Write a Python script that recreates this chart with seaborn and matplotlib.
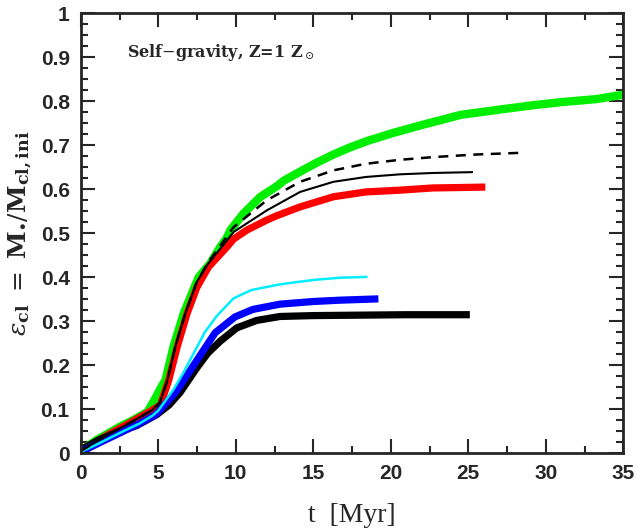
import matplotlib
matplotlib.use("Agg")
import matplotlib.pyplot as plt
import seaborn as sns
import pandas as pd
from matplotlib.ticker import MultipleLocator

# ---- data ----
green_t = [0, 1, 2, 2.5, 3.4, 4.3, 4.75, 5.2, 5.47, 5.98, 6.64, 7.6, 8.36, 9.0, 9.43, 9.65, 10.5, 10.93, 11.6, 12.65, 13.07, 14.15, 15.2, 16.3, 17.36, 18.5, 20.15, 22, 24.5, 27, 29.2, 31, 33.3, 35]
green_y = [0.005, 0.03, 0.05, 0.06, 0.076, 0.094, 0.121, 0.151, 0.167, 0.242, 0.318, 0.40, 0.432, 0.469, 0.49, 0.507, 0.545, 0.56, 0.583, 0.607, 0.619, 0.64, 0.66, 0.679, 0.695, 0.71, 0.728, 0.746, 0.769, 0.781, 0.791, 0.798, 0.805, 0.815]

red_t = [0, 1, 2, 3, 4, 4.6, 5.14, 5.68, 6.22, 6.86, 7.5, 8.25, 9.43, 9.86, 10.7, 12.0, 12.65, 14.15, 16.3, 18.4, 20.6, 22.7, 24.5, 26.1]
red_y = [0.005, 0.027, 0.047, 0.066, 0.086, 0.098, 0.11, 0.167, 0.242, 0.318, 0.378, 0.424, 0.469, 0.487, 0.507, 0.53, 0.54, 0.56, 0.583, 0.594, 0.598, 0.603, 0.604, 0.605]

thin_t = [0, 1, 2, 3, 4, 4.6, 5.1, 5.6, 6.1, 6.75, 7.5, 8.2, 9.0, 9.86, 12.0, 14.15, 16.3, 18.4, 20.6, 22.7, 25.3]
thin_y = [0.005, 0.027, 0.047, 0.066, 0.086, 0.098, 0.115, 0.167, 0.242, 0.318, 0.39, 0.43, 0.465, 0.503, 0.552, 0.594, 0.617, 0.628, 0.634, 0.637, 0.639]

dash_t = [0, 1, 2, 3, 4, 4.6, 5.1, 5.6, 6.1, 6.75, 7.5, 8.2, 9.0, 9.86, 12.0, 14.15, 16.3, 18.4, 20.6, 22.7, 25.5, 28.5]
dash_y = [0.005, 0.027, 0.047, 0.066, 0.086, 0.098, 0.115, 0.167, 0.242, 0.318, 0.39, 0.433, 0.472, 0.514, 0.575, 0.617, 0.643, 0.658, 0.667, 0.673, 0.679, 0.683]

cyan_t = [0, 1.2, 2.5, 3.8, 4.6, 5.0, 5.98, 6.6, 7.25, 8.0, 8.77, 9.85, 11.0, 12.85, 15, 16.7, 18.5]
cyan_y = [0.003, 0.023, 0.046, 0.068, 0.085, 0.097, 0.145, 0.182, 0.225, 0.275, 0.312, 0.352, 0.371, 0.384, 0.394, 0.399, 0.401]

blue_t = [0, 1.2, 2.5, 3.8, 4.6, 4.9, 6.1, 7.0, 7.8, 8.67, 9.95, 11.1, 12.85, 15, 16.7, 19.2]
blue_y = [0.003, 0.024, 0.046, 0.068, 0.083, 0.09, 0.138, 0.185, 0.228, 0.274, 0.31, 0.327, 0.339, 0.345, 0.348, 0.351]

black_t = [0, 1.2, 2.5, 3.6, 4.9, 5.7, 6.4, 7.5, 8.2, 9.0, 10.06, 11.35, 12.85, 15, 18, 21, 25.1]
black_y = [0.008, 0.031, 0.05, 0.063, 0.088, 0.11, 0.138, 0.195, 0.228, 0.255, 0.285, 0.302, 0.311, 0.313, 0.314, 0.315, 0.315]

x_ticks = [0, 5, 10, 15, 20, 25, 30, 35]
y_ticks = [0, 0.1, 0.2, 0.3, 0.4, 0.5, 0.6, 0.7, 0.8, 0.9, 1]
y_ticklabels = ["0", "0.1", "0.2", "0.3", "0.4", "0.5", "0.6", "0.7", "0.8", "0.9", "1"]

sns.set_style("ticks")
plt.rcParams['font.family'] = ['Liberation Serif', 'DejaVu Serif']
plt.rcParams['mathtext.fontset'] = 'dejavuserif'

fig = plt.figure(figsize=(6.36, 5.29), dpi=100)
ax = fig.add_axes([0.127, 0.143, 0.853, 0.832])

series = [
    (green_t, green_y, "#00ee00", 6.0, "-"),
    (red_t, red_y, "#ff0000", 5.2, "-"),
    (black_t, black_y, "#000000", 5.2, "-"),
    (blue_t, blue_y, "#0000ff", 5.2, "-"),
    (cyan_t, cyan_y, "#00eeff", 1.8, "-"),
    (thin_t, thin_y, "#000000", 1.5, "-"),
    (dash_t, dash_y, "#000000", 1.8, (0, (4, 3))),
]
for t, y, c, lw, ls in series:
    df = pd.DataFrame({"t": t, "y": y})
    sns.lineplot(data=df, x="t", y="y", ax=ax, color=c, linewidth=lw,
                 linestyle=ls, sort=False, estimator=None,
                 solid_capstyle="butt", dash_capstyle="butt",
                 solid_joinstyle="round")

ax.set_xlim(0, 35)
ax.set_ylim(0, 1)
ax.set_xticks(x_ticks)
ax.set_yticks(y_ticks)
ax.set_yticklabels(y_ticklabels)
ax.xaxis.set_minor_locator(MultipleLocator(2.5))
ax.yaxis.set_minor_locator(MultipleLocator(0.025))
ax.tick_params(which="both", direction="in", top=True, right=True, width=1.5)
ax.tick_params(which="major", length=10, labelsize=15, pad=8)
ax.tick_params(which="minor", length=5)
for lab in ax.get_xticklabels() + ax.get_yticklabels():
    lab.set_fontweight("bold")
    lab.set_family(['Liberation Sans'])
for s in ax.spines.values():
    s.set_linewidth(2)
    s.set_visible(True)

ax.set_xlabel("t  [Myr]", fontsize=20, labelpad=14)
ax.set_ylabel(r"$\epsilon_{\mathbf{cl}}\ =\ \mathbf{M}_{\bullet}/\mathbf{M}_{\mathbf{cl,ini}}$", fontsize=18, labelpad=5)
ax.text(3.0, 0.91, r"Self$-$gravity, Z=1 Z$_\odot$", fontsize=11.5, fontweight="bold",
        family=['DejaVu Serif'], va="center", ha="left")

fig.savefig("out.png", dpi=100)
